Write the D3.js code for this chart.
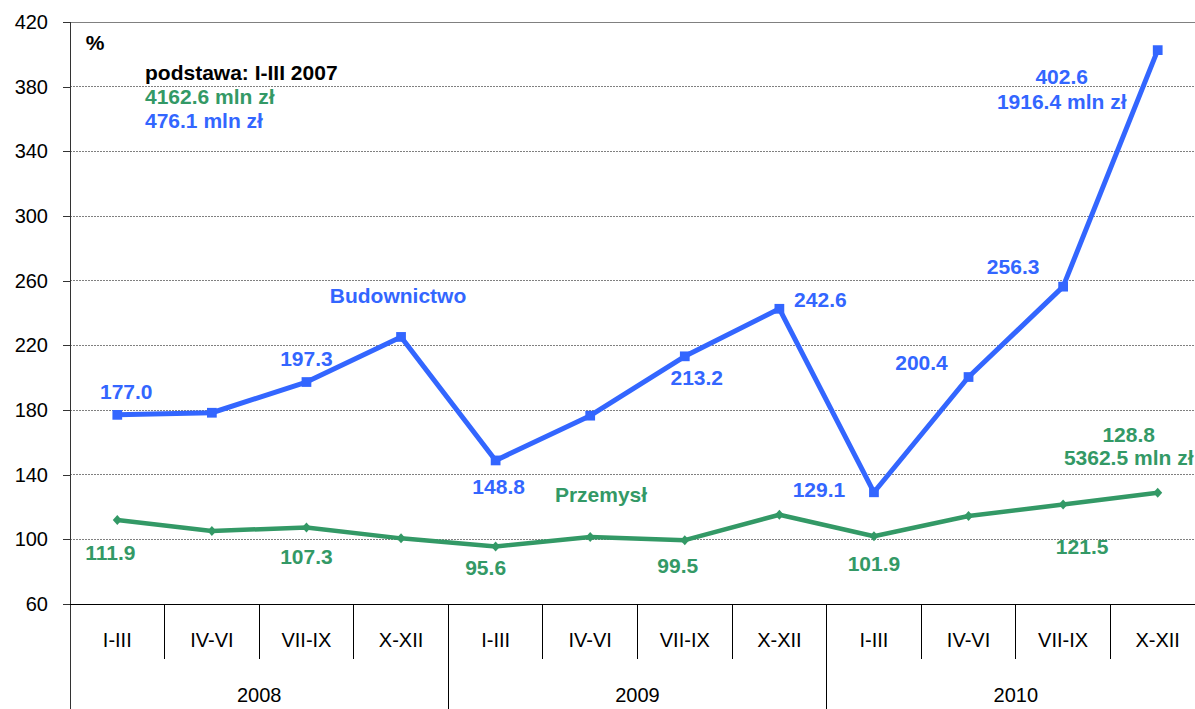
<!DOCTYPE html>
<html>
<head>
<meta charset="utf-8">
<script src="https://cdn.jsdelivr.net/npm/d3@7"></script>
<style>
    html, body { margin: 0; padding: 0; background: #fff; }
    svg { display: block; font-family: "Liberation Sans", Arial, sans-serif; }
</style>
</head>
<body>
<div id="chart"></div>
<script>
// Years and quarters along the x axis
const years = ['2008', '2009', '2010'];
const quarters = ['I-III', 'IV-VI', 'VII-IX', 'X-XII'];

// Index values (I-III 2007 = 100)
const budownictwo = [177.0, 178.3, 197.3, 225.2, 148.8, 176.5, 213.2, 242.6, 129.1, 200.4, 256.3, 402.6];
const przemysl = [111.9, 105.2, 107.3, 100.6, 95.6, 101.4, 99.5, 115.2, 101.9, 114.4, 121.5, 128.8];

// Which points carry a value label
const budownictwoLabelled = [0, 2, 4, 6, 7, 8, 9, 10, 11];
const przemyslLabelled = [0, 2, 4, 6, 8, 10, 11];

// Amounts shown under the last values and for the base period
const budownictwoLastAmount = '1916.4 mln zł';
const przemyslLastAmount = '5362.5 mln zł';
const baseTitle = 'podstawa: I-III 2007';
const przemyslBase = '4162.6 mln zł';
const budownictwoBase = '476.1 mln zł';

// Y axis ticks
const yTicks = [60, 100, 140, 180, 220, 260, 300, 340, 380, 420];

// Colours
const blue = '#3366ff';
const green = '#339966';

// Label offsets (centre of the label relative to its point)
const blueOffsets = {0: [9, -23], 2: [0, -24], 4: [3, 26], 6: [12, 21], 7: [41, -9],
                     8: [-55, -3], 9: [-47, -15], 10: [-50, -20], 11: [-96, 26]};
const greenOffsets = {0: [-7, 32], 2: [0, 29], 4: [-10, 21], 6: [-7, 25], 8: [0, 27],
                      10: [19, 42], 11: [-29, -58]};

const width = 1195, height = 709;
const plotLeft = 70, plotRight = 1205, plotTop = 22, plotBottom = 604;

const svg = d3.select('#chart').append('svg')
    .attr('width', width)
    .attr('height', height);

// Scales
const x = d3.scaleBand()
    .domain(d3.range(years.length * quarters.length))
    .range([plotLeft, plotRight])
    .padding(0);
const cx = i => x(i) + x.bandwidth() / 2;

const y = d3.scaleLinear()
    .domain([60, 420])
    .range([plotBottom, plotTop]);

// Gridlines
svg.append('g')
    .selectAll('line')
    .data(yTicks.filter(t => t > 60))
    .enter().append('line')
    .attr('x1', plotLeft).attr('x2', plotRight)
    .attr('y1', d => y(d)).attr('y2', d => y(d))
    .attr('stroke', '#808080')
    .attr('stroke-width', 1)
    .attr('stroke-dasharray', d => d === 420 ? null : '2,1')
    .attr('shape-rendering', 'crispEdges');

// Y axis with ticks on the left
const yAxis = svg.append('g')
    .attr('transform', `translate(${plotLeft},0)`)
    .call(d3.axisLeft(y).tickValues(yTicks).tickSize(7).tickPadding(15).tickFormat(d3.format('d')));
yAxis.select('.domain').remove();
yAxis.selectAll('line').attr('stroke', '#333').attr('shape-rendering', 'crispEdges');
yAxis.selectAll('text')
    .style('font-size', '20px')
    .style('font-family', '"Liberation Sans", Arial, sans-serif')
    .attr('fill', '#000');

// Left axis line running down through the category area
svg.append('line')
    .attr('x1', plotLeft).attr('x2', plotLeft)
    .attr('y1', plotTop).attr('y2', height)
    .attr('stroke', '#333')
    .attr('shape-rendering', 'crispEdges');

// X axis line
svg.append('line')
    .attr('x1', plotLeft).attr('x2', plotRight)
    .attr('y1', plotBottom).attr('y2', plotBottom)
    .attr('stroke', '#000')
    .attr('shape-rendering', 'crispEdges');

// Category separators: short ones between quarters, long ones between years
const boundaries = d3.range(1, years.length * quarters.length + 1);
svg.append('g')
    .selectAll('line')
    .data(boundaries)
    .enter().append('line')
    .attr('x1', i => x(i - 1) + x.bandwidth())
    .attr('x2', i => x(i - 1) + x.bandwidth())
    .attr('y1', plotBottom)
    .attr('y2', i => i % quarters.length === 0 ? height : 659)
    .attr('stroke', '#000')
    .attr('shape-rendering', 'crispEdges');

// Quarter labels
svg.append('g')
    .selectAll('text')
    .data(d3.range(years.length * quarters.length))
    .enter().append('text')
    .attr('x', cx)
    .attr('y', 647)
    .attr('text-anchor', 'middle')
    .style('font-size', '20px')
    .text(i => quarters[i % quarters.length]);

// Year labels
svg.append('g')
    .selectAll('text')
    .data(years)
    .enter().append('text')
    .attr('x', (d, i) => (x(i * 4) + x(i * 4 + 3) + x.bandwidth()) / 2)
    .attr('y', 702)
    .attr('text-anchor', 'middle')
    .style('font-size', '20px')
    .text(d => d);

// Draws one series with its markers and value labels
function drawSeries(values, color, lineWidth, marker, labelled, offsets) {
    const line = d3.line()
        .x((d, i) => cx(i))
        .y(d => y(d));

    svg.append('path')
        .datum(values)
        .attr('d', line)
        .attr('fill', 'none')
        .attr('stroke', color)
        .attr('stroke-width', lineWidth)
        .attr('stroke-linejoin', 'round');

    svg.append('g')
        .selectAll('path')
        .data(values)
        .enter().append('path')
        .attr('transform', (d, i) => `translate(${cx(i)},${y(d)})`)
        .attr('d', marker)
        .attr('fill', color);

    svg.append('g')
        .selectAll('text')
        .data(labelled)
        .enter().append('text')
        .attr('x', i => cx(i) + offsets[i][0])
        .attr('y', i => y(values[i]) + offsets[i][1] + 7.5)
        .attr('text-anchor', 'middle')
        .style('font-size', '21px')
        .style('font-weight', 'bold')
        .attr('fill', color)
        .text(i => values[i].toFixed(1));
}

const square = d3.symbol().type(d3.symbolSquare).size(95)();
const diamond = 'M0,-5L4.5,0L0,5L-4.5,0Z';

drawSeries(przemysl, green, 4.5, diamond, przemyslLabelled, greenOffsets);
drawSeries(budownictwo, blue, 5, square, budownictwoLabelled, blueOffsets);

// Amount lines under the last labels
const last = budownictwo.length - 1;
svg.append('text')
    .attr('x', cx(last) + blueOffsets[last][0])
    .attr('y', y(budownictwo[last]) + 51 + 7.5)
    .attr('text-anchor', 'middle')
    .style('font-size', '21px').style('font-weight', 'bold')
    .attr('fill', blue)
    .text(budownictwoLastAmount);
svg.append('text')
    .attr('x', cx(last) + greenOffsets[last][0])
    .attr('y', y(przemysl[last]) - 35 + 7.5)
    .attr('text-anchor', 'middle')
    .style('font-size', '21px').style('font-weight', 'bold')
    .attr('fill', green)
    .text(przemyslLastAmount);

// Series names
svg.append('text')
    .attr('x', 398).attr('y', 303)
    .attr('text-anchor', 'middle')
    .style('font-size', '21px').style('font-weight', 'bold')
    .attr('fill', blue)
    .text('Budownictwo');
svg.append('text')
    .attr('x', 601).attr('y', 502)
    .attr('text-anchor', 'middle')
    .style('font-size', '21px').style('font-weight', 'bold')
    .attr('fill', green)
    .text('Przemysł');

// Unit and base period notes
svg.append('text')
    .attr('x', 95).attr('y', 50)
    .attr('text-anchor', 'middle')
    .style('font-size', '21px').style('font-weight', 'bold')
    .text('%');
const notes = [[baseTitle, '#000'], [przemyslBase, green], [budownictwoBase, blue]];
svg.append('g')
    .selectAll('text')
    .data(notes)
    .enter().append('text')
    .attr('x', 145)
    .attr('y', (d, i) => 79.5 + i * 24)
    .style('font-size', '21px').style('font-weight', 'bold')
    .attr('fill', d => d[1])
    .text(d => d[0]);
</script>
</body>
</html>
